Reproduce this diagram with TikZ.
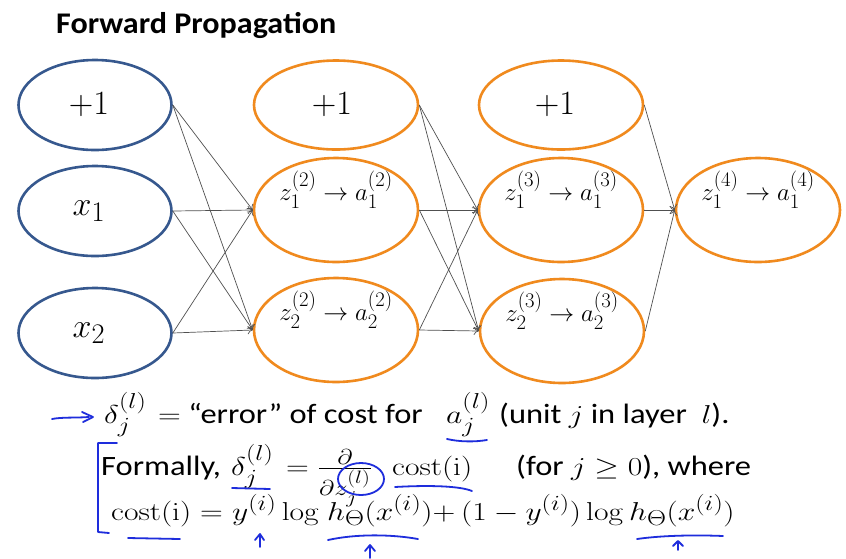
\RequirePackage{fix-cm}
\documentclass[tikz,border=0pt]{standalone}
\usepackage{amsmath}
\usepackage{graphicx}
\usepackage[no-math]{fontspec}
\newfontfamily\calib[FakeStretch=1.07]{Carlito}
\newfontfamily\calibw[FakeStretch=1.16]{Carlito}
\usetikzlibrary{shapes.geometric,arrows.meta}
\definecolor{nblue}{HTML}{36588E}
\definecolor{norange}{HTML}{F08A1E}
\definecolor{penblue}{HTML}{1E2DDC}
\definecolor{edgegray}{HTML}{505050}
\newcommand\BigS[1]{\scalebox{1.367}{#1}}
\newcommand\Mth[1]{\scalebox{1.27}[1.04]{\fontsize{24.88}{30}\selectfont#1}}
\tikzset{
  inl/.style={ellipse, draw=nblue, line width=2.6pt, minimum width=153pt, minimum height=90pt, inner sep=0pt},
  hid/.style={ellipse, draw=norange, line width=2.6pt, inner sep=0pt, minimum width=164pt, minimum height=104pt},
  bias/.style={hid, minimum height=89pt},
  big/.style={inner sep=0pt, font=\fontsize{24.88}{30}\selectfont},
  zlab/.style={anchor=base, inner sep=0pt, font=\fontsize{24.88}{30}\selectfont},
  conn/.style={draw=edgegray, line width=0.7pt, -{To[length=5pt,width=8pt]}},
  txt/.style={anchor=base west, inner sep=0pt, font=\fontsize{28}{34}\selectfont\calibw},
  ttl/.style={anchor=base west, inner sep=0pt, font=\fontsize{30}{36}\selectfont\calib\bfseries},
  mk/.style={draw=penblue, line width=1.8pt, line cap=round, line join=round}
}
\begin{document}
\begin{tikzpicture}[x=1pt,y=-1pt]
\useasboundingbox[fill=white] (0,0) rectangle (846,558);

\node[ttl] (title) at (56,33) {Forward Propagation};

% layer 1
\node[inl] (b1) at (95,105) {};
\node[inl] (x1) at (95,211) {};
\node[inl] (x2) at (95,333) {};
% layer 2
\node[bias] (b2) at (336,105) {};
\node[hid] (h21) at (336,210) {};
\node[hid] (h22) at (336,330) {};
% layer 3
\node[bias] (b3) at (561,105) {};
\node[hid] (h31) at (561,210) {};
\node[hid] (h32) at (562,331) {};
% layer 4
\node[hid] (o) at (758,210) {};

\node[big] (tb1) at ([xshift=-6pt]b1.center) {\BigS{$+1$}};
\node[big] (tx1) at ([xshift=-6pt]x1.center) {\BigS{$x_1$}};
\node[big] (tx2) at ([xshift=-6pt]x2.center) {\BigS{$x_2$}};
\node[big] (tb2) at ([xshift=-4pt]b2.center) {\BigS{$+1$}};
\node[big] (tb3) at ([xshift=-6pt]b3.center) {\BigS{$+1$}};

\node[zlab] (t21) at ([yshift=10pt]h21.center) {$z_1^{(2)} \to a_1^{(2)}$};
\node[zlab] (t22) at ([yshift=10pt]h22.center) {$z_2^{(2)} \to a_2^{(2)}$};
\node[zlab] (t31) at ([yshift=10pt]h31.center) {$z_1^{(3)} \to a_1^{(3)}$};
\node[zlab] (t32) at ([yshift=10pt]h32.center) {$z_2^{(3)} \to a_2^{(3)}$};
\node[zlab] (t4) at ([yshift=10pt]o.center) {$z_1^{(4)} \to a_1^{(4)}$};

\foreach \s in {b1,x1,x2} \foreach \t in {h21,h22} \draw[conn] (\s.east) -- (\t.west);
\foreach \s in {b2,h21,h22} \foreach \t in {h31,h32} \draw[conn] (\s.east) -- (\t.west);
\foreach \s in {b3,h31,h32} \draw[conn] (\s.east) -- (o.west);

% text lines
\node[txt] (d1) at (104,423) {\Mth{$\delta_j^{(l)}$}};
\node[txt] (e1) at (158,423) {\Mth{$=$}\ “error” of cost for};
\node[txt] (a1) at (446,423) {\Mth{$a_j^{(l)}$}};
\node[txt] (u1) at (499,423) {(unit \Mth{$j$} in layer\ \ \Mth{$l$}).};

\node[txt] (f2) at (101,475) {Formally,};
\node[txt] (d2) at (231,475) {\Mth{$\delta_j^{(l)}$}};
\node[txt] (q2) at (286,475) {\Mth{$=\frac{\partial}{\partial z_j^{(l)}}$}};
\node[txt] (c2) at (392,475) {\Mth{$\mathrm{cost}(\mathrm{i})$}};
\node[txt] (w2) at (516,475) {(for \Mth{$j \geq 0$}), where};

\node[txt] (c3) at (111,520) {\Mth{$\mathrm{cost}(\mathrm{i}) =$}};
\node[txt] (y3) at (232,520) {\Mth{$y^{(i)}\log$}};
\node[txt] (h3) at (327,520) {\Mth{$h_\Theta(x^{(i)}) +$}};
\node[txt] (m3) at (461,520) {\Mth{$(1-y^{(i)})\log$}};
\node[txt] (k3) at (629,520) {\Mth{$h_\Theta(x^{(i)})$}};

% pen annotations
\draw[mk] (52,419) .. controls (62,417) and (75,418) .. (89,417);
\draw[mk] (82,412) -- (93,417) -- (83,422);
\draw[mk] (447,439) .. controls (460,442) and (475,442) .. (487,440);
\draw[mk] (117,443) -- (98,443) -- (98,532) -- (109,533);
\draw[mk] (232,488) -- (270,489);
\draw[mk] (361,479) ellipse [x radius=23pt, y radius=16pt];
\draw[mk] (395,487) .. controls (430,485) and (460,486) .. (472,491);
\draw[mk] (128,538) -- (180,539);
\draw[mk] (260,547) -- (260,535);
\draw[mk] (255,540) -- (260,534) -- (264,540);
\draw[mk] (328,540) .. controls (355,534) and (390,534) .. (418,539);
\draw[mk] (370,558) -- (370,546);
\draw[mk] (365,551) -- (370,545) -- (375,551);
\draw[mk] (637,539) .. controls (665,535) and (700,535) .. (723,536);
\draw[mk] (678,550) -- (678,542);
\draw[mk] (673,546) -- (678,541) -- (683,546);
\end{tikzpicture}
\end{document}
